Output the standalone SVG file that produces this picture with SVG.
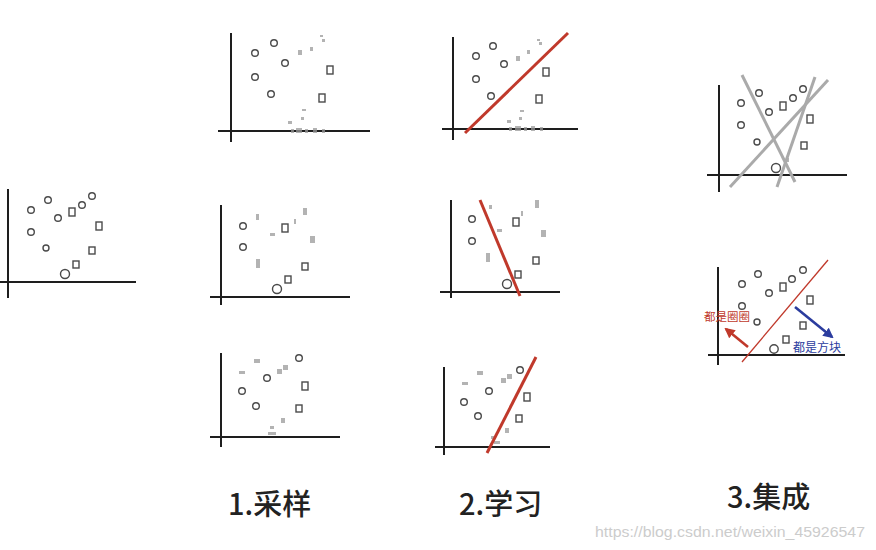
<svg xmlns="http://www.w3.org/2000/svg" width="876" height="550" viewBox="0 0 876 550">
<defs>
<style>
.ax{stroke:#1e1e1e;stroke-width:2;fill:none}
.c{fill:none;stroke:#4a4a4a;stroke-width:1.4}
.s{fill:none;stroke:#4a4a4a;stroke-width:1.4}
.f{fill:#9a9a9a;opacity:0.75}
.red{stroke:#c0392b;stroke-width:3;fill:none}
.gry{stroke:#aaaaaa;stroke-width:3;fill:none}
.lab{font-family:"Noto Sans CJK SC","Noto Sans",sans-serif;font-size:29px;fill:#222;font-weight:500}
</style>
<marker id="ahr" viewBox="0 0 10 10" refX="8" refY="5" markerWidth="4" markerHeight="4" orient="auto"><path d="M0,0 L10,5 L0,10 z" fill="#c0392b"/></marker>
<marker id="ahb" viewBox="0 0 10 10" refX="8" refY="5" markerWidth="4" markerHeight="4" orient="auto"><path d="M0,0 L10,5 L0,10 z" fill="#2b3c9e"/></marker>
</defs>
<rect width="876" height="550" fill="#ffffff"/>

<g id="plot-original">
<line class="ax" x1="8" y1="189" x2="8" y2="298"/>
<line class="ax" x1="0" y1="282" x2="136" y2="282"/>
<circle class="c" cx="31" cy="210" r="3.3"/><circle class="c" cx="48" cy="200" r="3.3"/><circle class="c" cx="58" cy="218" r="3.3"/><circle class="c" cx="82" cy="205" r="3.3"/><circle class="c" cx="92" cy="196" r="3.3"/><circle class="c" cx="31" cy="232" r="3.3"/><circle class="c" cx="46" cy="248" r="3"/><circle class="c" cx="65" cy="274" r="4.5"/>
<rect class="s" x="69" y="208" width="6" height="8"/><rect class="s" x="96" y="222" width="6" height="8"/><rect class="s" x="89" y="247" width="6" height="7"/><rect class="s" x="73" y="261" width="6" height="7"/>
</g>

<g id="sample-1">
<line class="ax" x1="231" y1="33" x2="231" y2="142"/>
<line class="ax" x1="218" y1="131" x2="370" y2="131"/>
<circle class="c" cx="255" cy="53" r="3.3"/><circle class="c" cx="274" cy="43" r="3.3"/><circle class="c" cx="285" cy="63" r="3.3"/><circle class="c" cx="255" cy="77" r="3.3"/><circle class="c" cx="271" cy="94" r="3.3"/>
<rect class="s" x="327" y="66" width="6" height="8"/><rect class="s" x="319" y="94" width="6" height="8"/>
<rect class="f" x="298" y="50" width="4" height="5"/><rect class="f" x="310" y="47" width="3" height="4"/><rect class="f" x="320" y="35" width="3" height="2"/><rect class="f" x="322" y="39" width="3" height="3"/>
<rect class="f" x="302" y="109" width="4" height="2"/><rect class="f" x="301" y="117" width="3" height="3"/><rect class="f" x="288" y="121" width="4" height="3"/>
<rect class="f" x="291" y="129" width="3" height="4"/><rect class="f" x="296" y="128" width="6" height="5"/><rect class="f" x="305" y="129" width="3" height="4"/><rect class="f" x="313" y="128" width="4" height="5"/><rect class="f" x="322" y="129" width="3" height="4"/>
</g>

<g id="sample-2">
<line class="ax" x1="221" y1="205" x2="221" y2="305"/>
<line class="ax" x1="210" y1="297" x2="350" y2="297"/>
<circle class="c" cx="243" cy="226" r="3.3"/><circle class="c" cx="243" cy="247" r="3.3"/><circle class="c" cx="277" cy="289" r="4.5"/>
<rect class="s" x="282" y="224" width="6" height="8"/><rect class="s" x="302" y="263" width="6" height="7"/><rect class="s" x="285" y="276" width="6" height="7"/>
<rect class="f" x="256" y="214" width="3" height="6"/><rect class="f" x="270" y="233" width="5" height="3"/><rect class="f" x="294" y="219" width="2" height="5"/><rect class="f" x="303" y="208" width="4" height="7"/><rect class="f" x="310" y="236" width="5" height="7"/><rect class="f" x="256" y="259" width="4" height="9"/>
</g>

<g id="sample-3">
<line class="ax" x1="221" y1="353" x2="221" y2="447"/>
<line class="ax" x1="210" y1="437" x2="340" y2="437"/>
<circle class="c" cx="267" cy="378" r="3.3"/><circle class="c" cx="242" cy="391" r="3.3"/><circle class="c" cx="256" cy="406" r="3.3"/><circle class="c" cx="299" cy="358" r="3.3"/>
<rect class="s" x="302" y="382" width="6" height="8"/><rect class="s" x="296" y="405" width="6" height="7"/>
<rect class="f" x="254" y="359" width="6" height="4"/><rect class="f" x="239" y="371" width="6" height="3"/><rect class="f" x="277" y="369" width="5" height="5"/><rect class="f" x="283" y="365" width="5" height="5"/><rect class="f" x="281" y="418" width="4" height="5"/><rect class="f" x="270" y="426" width="4" height="3"/><rect class="f" x="268" y="432" width="8" height="3"/>
</g>

<g id="learn-1">
<line class="ax" x1="453" y1="37" x2="453" y2="140"/>
<line class="ax" x1="442" y1="129" x2="578" y2="129"/>
<circle class="c" cx="476" cy="56" r="3.3"/><circle class="c" cx="493" cy="46" r="3.3"/><circle class="c" cx="504" cy="64" r="3.3"/><circle class="c" cx="476" cy="79" r="3.3"/><circle class="c" cx="491" cy="96" r="3.3"/>
<rect class="s" x="543" y="68" width="6" height="8"/><rect class="s" x="536" y="95" width="6" height="8"/>
<rect class="f" x="516" y="56" width="4" height="5"/><rect class="f" x="527" y="50" width="3" height="4"/><rect class="f" x="537" y="39" width="3" height="2"/><rect class="f" x="539" y="42" width="3" height="3"/>
<rect class="f" x="520" y="110" width="4" height="2"/><rect class="f" x="519" y="117" width="3" height="3"/><rect class="f" x="507" y="120" width="4" height="3"/>
<rect class="f" x="509" y="127" width="3" height="4"/><rect class="f" x="515" y="126" width="6" height="5"/><rect class="f" x="524" y="127" width="3" height="4"/><rect class="f" x="531" y="126" width="4" height="5"/><rect class="f" x="540" y="127" width="3" height="4"/>
<line class="red" x1="465" y1="133" x2="568" y2="33"/>
</g>

<g id="learn-2">
<line class="ax" x1="451" y1="200" x2="451" y2="298"/>
<line class="ax" x1="440" y1="292" x2="560" y2="292"/>
<circle class="c" cx="472" cy="219" r="3.3"/><circle class="c" cx="472" cy="241" r="3.3"/><circle class="c" cx="507" cy="284" r="4.5"/>
<rect class="s" x="513" y="218" width="6" height="8"/><rect class="s" x="533" y="257" width="6" height="7"/><rect class="s" x="515" y="271" width="6" height="7"/>
<rect class="f" x="489" y="205" width="3" height="4"/><rect class="f" x="497" y="229" width="5" height="3"/><rect class="f" x="521" y="211" width="2" height="5"/><rect class="f" x="535" y="200" width="4" height="8"/><rect class="f" x="541" y="230" width="5" height="7"/><rect class="f" x="486" y="253" width="4" height="9"/>
<line class="red" x1="480" y1="200" x2="520" y2="296"/>
</g>

<g id="learn-3">
<line class="ax" x1="444" y1="367" x2="444" y2="455"/>
<line class="ax" x1="435" y1="447" x2="550" y2="447"/>
<circle class="c" cx="520" cy="370" r="3.3"/><circle class="c" cx="489" cy="391" r="3.3"/><circle class="c" cx="464" cy="402" r="3.3"/><circle class="c" cx="478" cy="416" r="3.3"/>
<rect class="s" x="524" y="393" width="6" height="8"/><rect class="s" x="516" y="415" width="6" height="7"/>
<rect class="f" x="477" y="371" width="6" height="4"/><rect class="f" x="462" y="382" width="6" height="3"/><rect class="f" x="501" y="378" width="5" height="5"/><rect class="f" x="507" y="374" width="5" height="5"/><rect class="f" x="505" y="428" width="4" height="5"/><rect class="f" x="491" y="436" width="4" height="3"/><rect class="f" x="494" y="441" width="6" height="3"/>
<line class="red" x1="487" y1="453" x2="536" y2="357"/>
</g>

<g id="ensemble-1">
<line class="ax" x1="719" y1="85" x2="719" y2="192"/>
<line class="ax" x1="707" y1="175" x2="847" y2="175"/>
<circle class="c" cx="741" cy="103" r="3.3"/><circle class="c" cx="759" cy="93" r="3.3"/><circle class="c" cx="769" cy="112" r="3.3"/><circle class="c" cx="793" cy="98" r="3.3"/><circle class="c" cx="803" cy="89" r="3.3"/><circle class="c" cx="741" cy="125" r="3.3"/><circle class="c" cx="757" cy="142" r="3"/><circle class="c" cx="776" cy="168" r="4.5"/>
<rect class="s" x="780" y="102" width="6" height="8"/><rect class="s" x="807" y="115" width="6" height="8"/><rect class="s" x="801" y="142" width="6" height="7"/>
<rect class="f" x="786" y="158" width="3" height="4"/>
<line class="gry" x1="742" y1="75" x2="795" y2="182"/>
<line class="gry" x1="815" y1="77" x2="777" y2="187"/>
<line class="gry" x1="828" y1="80" x2="730" y2="187"/>
</g>

<g id="ensemble-2">
<line class="ax" x1="718" y1="267" x2="718" y2="365"/>
<line class="ax" x1="708" y1="355" x2="845" y2="355"/>
<circle class="c" cx="742" cy="284" r="3.3"/><circle class="c" cx="758" cy="274" r="3.3"/><circle class="c" cx="769" cy="293" r="3.3"/><circle class="c" cx="792" cy="279" r="3.3"/><circle class="c" cx="803" cy="270" r="3.3"/><circle class="c" cx="742" cy="306" r="3.3"/><circle class="c" cx="757" cy="322" r="3"/><circle class="c" cx="774" cy="349" r="4.2"/>
<rect class="s" x="780" y="283" width="6" height="8"/><rect class="s" x="807" y="296" width="6" height="8"/><rect class="s" x="800" y="322" width="6" height="7"/><rect class="s" x="783" y="336" width="6" height="7"/>
<line x1="742" y1="362" x2="828" y2="260" stroke="#c0392b" stroke-width="1.3"/>
<text x="704" y="321" font-family="'Noto Sans CJK SC',sans-serif" font-size="11.5" fill="#c0392b">都是圈圈</text>
<text x="793" y="352" font-family="'Noto Sans CJK SC',sans-serif" font-size="12" fill="#2b3c9e">都是方块</text>
</g>

<g id="connectors">
<line x1="748" y1="347" x2="726" y2="329" stroke="#c0392b" stroke-width="2.6" marker-end="url(#ahr)"/>
<line x1="795" y1="307" x2="832" y2="337" stroke="#2b3c9e" stroke-width="2.6" marker-end="url(#ahb)"/>
</g>

<g id="labels">
<text class="lab" x="228" y="515">1.采样</text>
<text class="lab" x="459" y="515">2.学习</text>
<text class="lab" x="727" y="508">3.集成</text>
<text x="595" y="537" font-family="'Liberation Sans',Arial,sans-serif" font-size="14.5" fill="#cccccc" textLength="270" lengthAdjust="spacingAndGlyphs">https://blog.csdn.net/weixin_45926547</text>
</g>
</svg>
